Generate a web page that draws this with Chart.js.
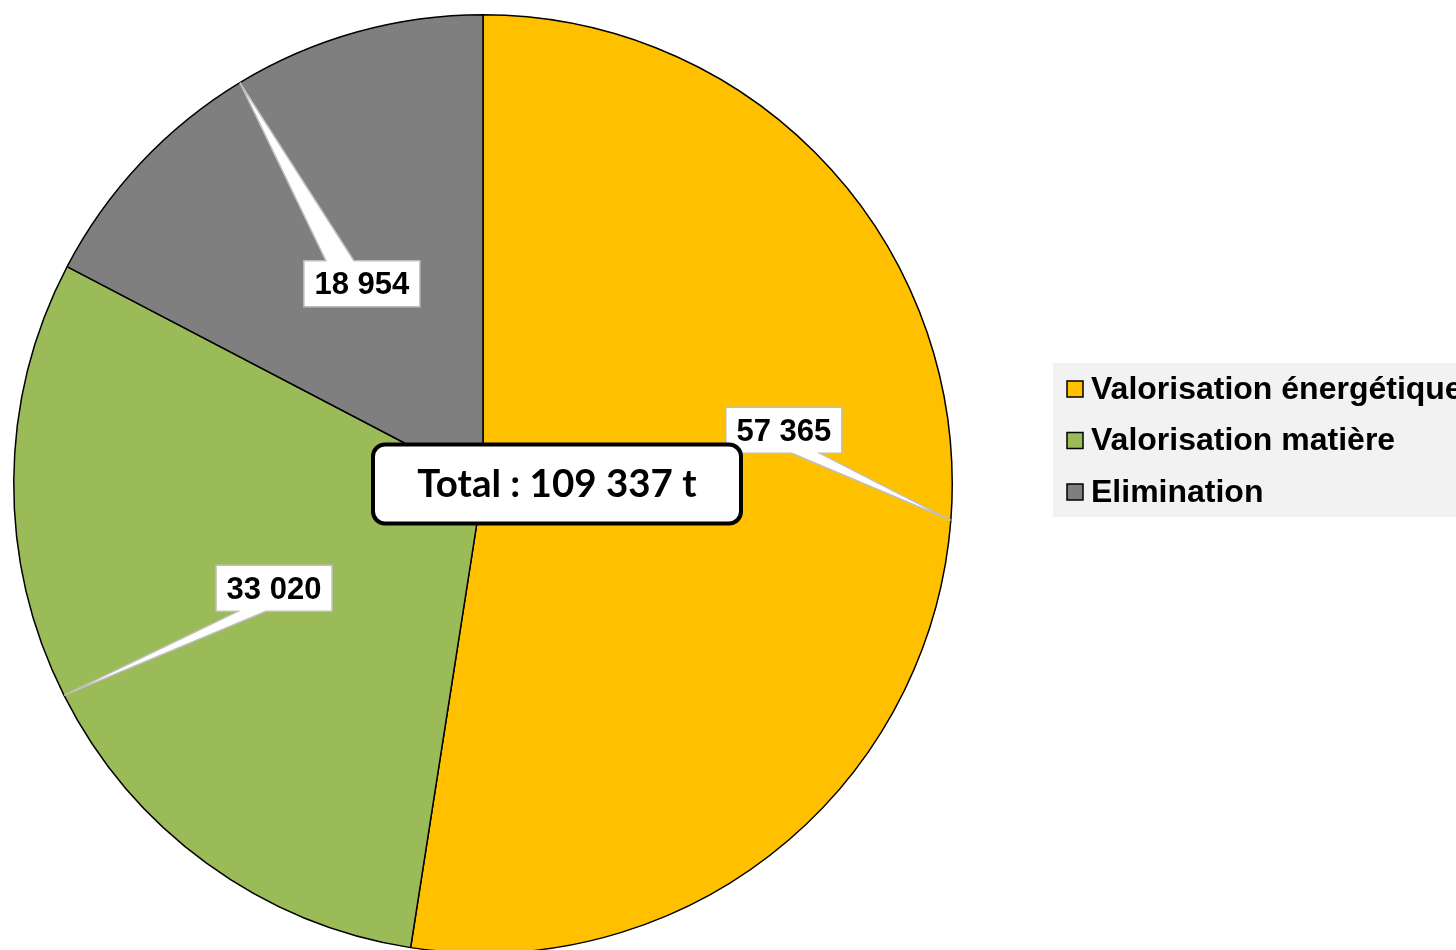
<!DOCTYPE html>
<html>
<head>
<meta charset="utf-8">
<script src="https://cdn.jsdelivr.net/npm/chart.js@4/dist/chart.umd.min.js"></script>
<style>
  html, body { margin: 0; padding: 0; background: #fff; overflow: hidden; }
  #wrap { width: 1456px; height: 950px; overflow: hidden; }
</style>
</head>
<body>
<div id="wrap"><canvas id="pie" width="1456" height="960"></canvas></div>
<script>
/* ── Data ── */
const categories = ['Valorisation énergétique', 'Valorisation matière', 'Elimination'];
const tonnages   = [57365, 33020, 18954];
const totalLabel = 'Total : 109 337 t';

/* ── Style ── */
const sliceColors    = ['#FFC000', '#9BBB59', '#7F7F7F'];
// callout box centre, relative to the slice's anchor point on the rim
const calloutOffsets = [[-167, -90], [210, -107], [122, 201]];
const LABEL_FONT  = 'bold 31px "Liberation Sans", Arial, sans-serif';
const LEGEND_FONT = 'bold 32px "Liberation Sans", Arial, sans-serif';

const fmt = v => String(v).replace(/\B(?=(\d{3})+(?!\d))/g, ' ');

/* ── Callouts + total box + legend ── */
const overlay = {
  id: 'overlay',
  afterDraw(chart) {
    const ctx = chart.ctx;
    const arcs = chart.getDatasetMeta(0).data;

    ctx.save();
    ctx.font = LABEL_FONT;
    ctx.textAlign = 'center';
    ctx.textBaseline = 'middle';

    arcs.forEach((arc, i) => {
      const { x, y, startAngle, endAngle, outerRadius } = arc.getProps(['x', 'y', 'startAngle', 'endAngle', 'outerRadius'], true);
      const mid = (startAngle + endAngle) / 2;
      const ax = x + Math.cos(mid) * outerRadius;
      const ay = y + Math.sin(mid) * outerRadius;
      const cx = ax + calloutOffsets[i][0];
      const cy = ay + calloutOffsets[i][1];
      const w = 116, h = 46;
      const bx0 = cx - w / 2, by0 = cy - h / 2;
      const baseX = cx + Math.sign(ax - cx) * 22;

      ctx.beginPath();
      if (ay > cy) {
        ctx.moveTo(bx0, by0);
        ctx.lineTo(bx0 + w, by0);
        ctx.lineTo(bx0 + w, by0 + h);
        ctx.lineTo(baseX + 14, by0 + h);
        ctx.lineTo(ax, ay);
        ctx.lineTo(baseX - 14, by0 + h);
        ctx.lineTo(bx0, by0 + h);
      } else {
        ctx.moveTo(bx0, by0);
        ctx.lineTo(baseX - 14, by0);
        ctx.lineTo(ax, ay);
        ctx.lineTo(baseX + 14, by0);
        ctx.lineTo(bx0 + w, by0);
        ctx.lineTo(bx0 + w, by0 + h);
        ctx.lineTo(bx0, by0 + h);
      }
      ctx.closePath();
      ctx.fillStyle = '#fff';
      ctx.fill();
      ctx.strokeStyle = '#bfbfbf';
      ctx.lineWidth = 1.5;
      ctx.stroke();

      ctx.fillStyle = '#000';
      ctx.fillText(fmt(tonnages[i]), cx, cy + 2);
    });

    // total box
    const px = arcs[0].x, py = arcs[0].y;
    const tw = 368, th = 79;
    const tx = px + 74 - tw / 2, ty = py - th / 2;
    ctx.beginPath();
    ctx.roundRect(tx, ty, tw, th, 12);
    ctx.fillStyle = '#fff';
    ctx.fill();
    ctx.lineWidth = 4;
    ctx.strokeStyle = '#000';
    ctx.stroke();
    ctx.fillStyle = '#000';
    ctx.font = 'bold 38.5px Lato, "Open Sans", sans-serif';
    ctx.fillText(totalLabel, tx + tw / 2, ty + th / 2 + 1);

    // legend
    ctx.fillStyle = '#f2f2f2';
    ctx.fillRect(1053, 363, 420, 154);
    ctx.font = LEGEND_FONT;
    ctx.textAlign = 'left';
    categories.forEach((name, i) => {
      const ly = 389 + i * 51.5;
      ctx.fillStyle = sliceColors[i];
      ctx.fillRect(1067, ly - 8, 16, 16);
      ctx.strokeStyle = '#000';
      ctx.lineWidth = 1.5;
      ctx.strokeRect(1067, ly - 8, 16, 16);
      ctx.fillStyle = '#000';
      ctx.fillText(name, 1091, ly + 1);
    });
    ctx.restore();
  }
};

new Chart(document.getElementById('pie').getContext('2d'), {
  type: 'pie',
  data: {
    labels: categories,
    datasets: [{
      data: tonnages,
      backgroundColor: sliceColors,
      borderColor: '#000',
      borderWidth: 1.5,
      hoverOffset: 0,
    }],
  },
  options: {
    responsive: false,
    animation: false,
    devicePixelRatio: 1,
    layout: { padding: { left: 13, top: 14, right: 503, bottom: 6 } },
    plugins: {
      legend: { display: false },
      tooltip: { enabled: false },
    },
  },
  plugins: [overlay],
});
</script>
</body>
</html>
